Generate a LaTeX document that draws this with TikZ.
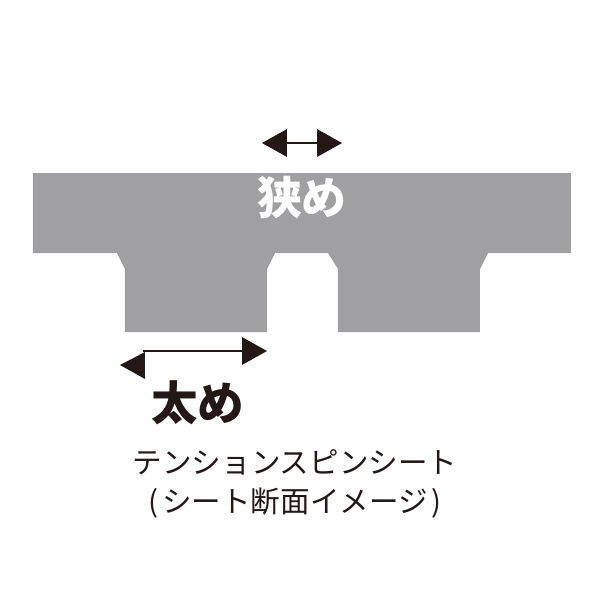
\documentclass[tikz,border=0pt]{standalone}
\usepackage{fontspec}
\newfontfamily\jpfont{Noto Sans CJK JP}
\usetikzlibrary{arrows.meta}
\usetikzlibrary{calc}
\definecolor{sheetgray}{RGB}{160,160,163}
\definecolor{inkblack}{RGB}{35,24,21}
\tikzstyle{dimline}=[draw=inkblack, line width=1.1pt, -{Triangle[length=0.5cm, width=0.55cm]}]
\tikzstyle{label}=[inner sep=0pt, font=\jpfont]

\begin{document}
\begin{tikzpicture}[x=0.02cm, y=-0.02cm]
		\useasboundingbox (0,0) rectangle (600,600);
		%\draw[help lines, step=50] (0,0) grid (600,600);
		\fill[sheetgray] (33,173) -- (571,173) -- (571,253) -- (488,253) -- (480,269) -- (480,332)
		  -- (338,332) -- (338,269) -- (328,253) -- (275,253) -- (267,269) -- (267,332)
		  -- (125,332) -- (125,269) -- (117,253) -- (33,253) -- cycle;%sheet section
		
		\coordinate (narrowL) at (262,143);
		\coordinate (narrowR) at (342,143);
		\draw[dimline] ($(narrowL)!0.5!(narrowR)$) -- (narrowR);
		\draw[dimline] ($(narrowL)!0.5!(narrowR)$) -- (narrowL);%narrow gap
		
		\coordinate (wideL) at (143,351);
		\coordinate (wideR) at (267,351);
		\draw[dimline] (wideL) -- (wideR);
		\fill[inkblack] (120,365) -- (145,352) -- (145,379) -- cycle;%wide tooth
		
		\node[label, text=white, font=\jpfont\bfseries\fontsize{25.5}{25.5}\selectfont] (narrow) at (302,198) {狭め};
		\node[label, text=inkblack, font=\jpfont\bfseries\fontsize{26.5}{26.5}\selectfont] (wide) at (198,403) {太め};
		\node[label, text=inkblack, font=\jpfont\fontsize{16.8}{16.8}\selectfont] (title) at (295,462) {テンションスピンシート};
		\node[label, text=inkblack, font=\jpfont\fontsize{16.8}{16.8}\selectfont] (subtitle) at (295,503) {(\hspace{2.5pt}シート断面イメージ\hspace{2.5pt})};
		\end{tikzpicture}
\end{document}
